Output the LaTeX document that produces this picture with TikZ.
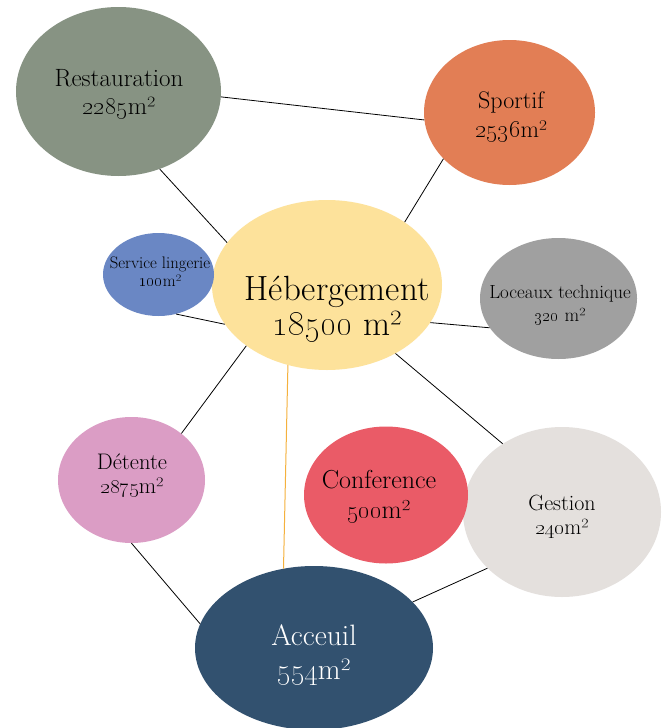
\documentclass[tikz,border=0pt]{standalone}
\usetikzlibrary{shapes.geometric}
\definecolor{cRest}{HTML}{879383}
\definecolor{cSport}{HTML}{E27E55}
\definecolor{cHeb}{HTML}{FDE29B}
\definecolor{cLing}{HTML}{6A87C4}
\definecolor{cLoc}{HTML}{A0A0A0}
\definecolor{cDet}{HTML}{DB9DC5}
\definecolor{cConf}{HTML}{EA5B67}
\definecolor{cGest}{HTML}{E4E0DD}
\definecolor{cAcc}{HTML}{32516F}
\definecolor{cOrange}{HTML}{F5B13D}
\newcommand{\osn}[1]{\oldstylenums{#1}}
\newcommand{\fs}[2]{\fontsize{#1}{#2}\selectfont}
\begin{document}
\begin{tikzpicture}[x=1pt,y=-1pt,
  blob/.style={ellipse,inner sep=0pt,draw=none},
  link/.style={black,line width=0.8pt},
  lbl/.style={align=center,inner sep=0pt,text=black}]
\useasboundingbox (0,0) rectangle (662,728);
\fill[white] (0,0) rectangle (662,728);
% ellipses
\node[blob,fill=cRest,minimum width=205pt,minimum height=169pt] (rest) at (118.5,91.5) {};
\node[blob,fill=cSport,minimum width=171pt,minimum height=145pt] (sport) at (509.5,112.5) {};
\node[blob,fill=cHeb,minimum width=230pt,minimum height=170pt] (heb) at (327,285) {};
\node[blob,fill=cLing,minimum width=111pt,minimum height=83pt] (ling) at (158.5,274.5) {};
\node[blob,fill=cLoc,minimum width=157pt,minimum height=121pt] (loc) at (558.5,298.5) {};
\node[blob,fill=cDet,minimum width=147pt,minimum height=126pt] (det) at (131.5,480) {};
\node[blob,fill=cGest,minimum width=198pt,minimum height=170pt] (gest) at (562,512) {};
\node[blob,fill=cConf,minimum width=164pt,minimum height=137pt] (conf) at (386,495) {};
\node[blob,fill=cAcc,minimum width=238pt,minimum height=164pt] (acc) at (314,648) {};
% connectors
\draw[link] (rest.-3.6) -- (sport.185);
\draw[link] (rest.-62.7) -- (heb.157.4);
\draw[link] (sport.215.9) -- (heb.39.6);
\draw[link] (ling.-66) -- (heb.201.3);
\draw[link] (heb.-20.3) -- (loc.203);
\draw[link] (heb.217.5) -- (det.43.5);
\draw[link] (heb.-45) -- (gest.131);
\draw[cOrange,line width=1pt] (heb.244.8) -- (acc.111);
\draw[link] (det.-90) -- (acc.168.5);
\draw[link] (gest.217) -- (acc.25.4);
% labels
\node[lbl,font=\fs{25}{28}] (restT) at (119,94) {Restauration\\\osn{2285}m²};
\node[lbl,font=\fs{24}{29}] (sportT) at (511,117) {Sportif\\\osn{2536}m²};
\node[lbl,font=\fs{35}{35}] (hebT) at (337,309.5) {Hébergement\\\osn{18500} m²};
\node[lbl,font=\fs{16.7}{18}] (lingT) at (160,272) {Service lingerie\\\osn{100}m²};
\node[lbl,font=\fs{19}{23}] (locT) at (560,305) {Loceaux technique\\\osn{320} m²};
\node[lbl,font=\fs{22.5}{24}] (detT) at (132,476) {Détente\\\osn{2875}m²};
\node[lbl,font=\fs{26}{30}] (confT) at (379,497) {Conference\\\osn{500}m²};
\node[lbl,font=\fs{22}{24}] (gestT) at (562,517) {Gestion\\\osn{240}m²};
\node[lbl,font=\fs{29.5}{34},text=white] (accT) at (314,655) {Acceuil\\\osn{554}m²};
\end{tikzpicture}
\end{document}
